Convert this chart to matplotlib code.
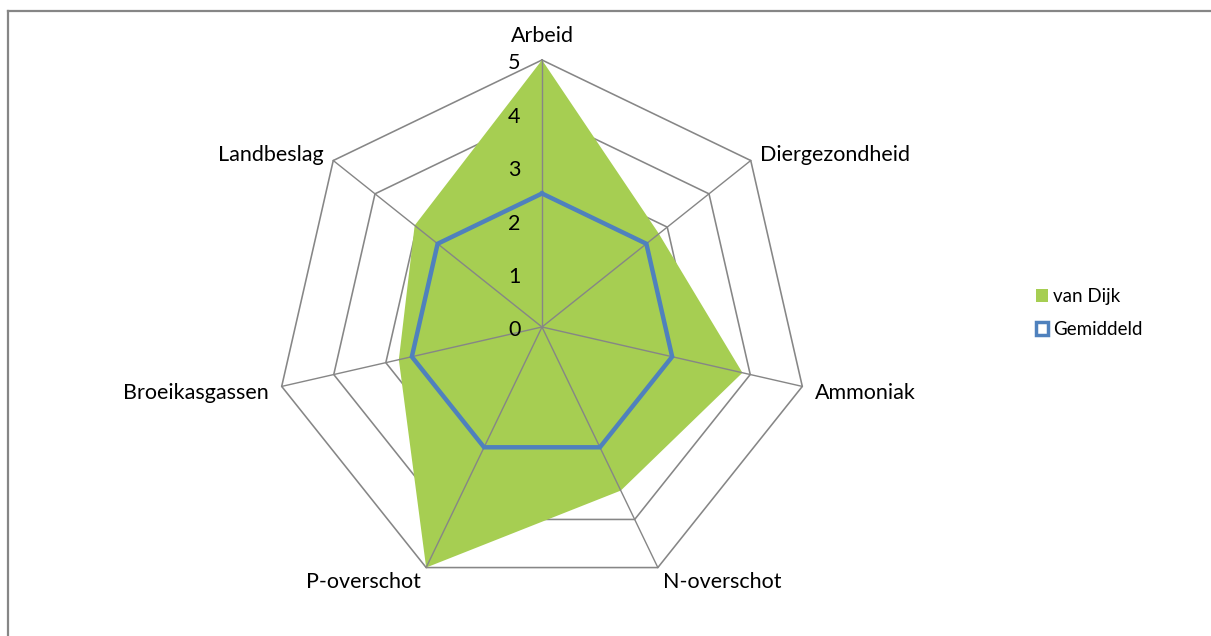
import numpy as np
import matplotlib
matplotlib.use("Agg")
import matplotlib.pyplot as plt
from matplotlib.patches import Patch
from matplotlib.lines import Line2D

categories = ["Arbeid", "Diergezondheid", "Ammoniak", "N-overschot",
              "P-overschot", "Broeikasgassen", "Landbeslag"]
van_dijk = [5.0, 2.8, 3.85, 3.4, 5.0, 2.75, 3.05]
gemiddeld = [2.5, 2.5, 2.5, 2.5, 2.5, 2.5, 2.5]
ticks = [0, 1, 2, 3, 4, 5]
series_names = ["van Dijk", "Gemiddeld"]

GREEN = "#A6CE52"
BLUE = "#4F81BD"
GRID = "#868686"
FONT = "Lato"

W, H = 1211, 636
fig = plt.figure(figsize=(W / 100, H / 100), dpi=100)
ax = fig.add_axes([0, 0, 1, 1])
cx, cy, rad = 542, 327, 267.0
u = rad / 5.0  # px per data unit
ax.set_xlim(-cx / u, (W - cx) / u)
ax.set_ylim(-(H - cy) / u, cy / u)
ax.axis("off")

n = len(categories)
ang = np.deg2rad(90 - np.arange(n) * 360.0 / n)
ca, sa = np.cos(ang), np.sin(ang)

def xy(vals):
    v = np.asarray(vals, float)
    return v * ca, v * sa

# grid rings
for t in ticks[1:]:
    x, y = xy([t] * n)
    ax.plot(np.r_[x, x[0]], np.r_[y, y[0]], color=GRID, lw=1.15, zorder=1)

# green fill
x, y = xy(van_dijk)
ax.fill(x, y, color=GREEN, lw=0, zorder=2)

# spokes (drawn over the fill like Excel)
for i in range(n):
    ax.plot([0, ticks[-1] * ca[i]], [0, ticks[-1] * sa[i]], color=GRID, lw=1.0, zorder=3)

# blue line
x, y = xy(gemiddeld)
ax.plot(np.r_[x, x[0]], np.r_[y, y[0]], color=BLUE, lw=3.2, zorder=4,
        solid_joinstyle="miter")

# tick labels
for t in ticks:
    ax.annotate(str(t), xy=(0, t), xytext=(-20, -2.5), textcoords="offset points",
                ha="center", va="center", fontsize=15.5, family=FONT, zorder=5)

# category labels
offs = {
    "Arbeid": (0, 17, "center"),
    "Diergezondheid": (7, 4, "left"),
    "Ammoniak": (9, -4.5, "left"),
    "N-overschot": (4, -10.5, "left"),
    "P-overschot": (-4, -10.5, "right"),
    "Broeikasgassen": (-9, -4.5, "right"),
    "Landbeslag": (-7, 4, "right"),
}
for i, c in enumerate(categories):
    dx, dy, ha = offs[c]
    ax.annotate(c, xy=(5 * ca[i], 5 * sa[i]), xytext=(dx, dy),
                textcoords="offset points", ha=ha, va="center",
                fontsize=15.5, family=FONT)

# legend
handles = [Patch(facecolor=GREEN, edgecolor=GREEN, lw=0),
           Patch(facecolor="white", edgecolor=BLUE, lw=2.5)]
leg = fig.legend(handles, series_names, loc="center left",
                 bbox_to_anchor=(1036 / W, 1 - 313 / H), frameon=False,
                 prop={"family": FONT, "size": 13.5}, handlelength=0.65,
                 handleheight=0.65, handletextpad=0.25, labelspacing=0.85,
                 borderpad=0, borderaxespad=0)

# outer chart border
fig.add_artist(Line2D([8 / W, 1], [1 - 11 / H, 1 - 11 / H], color=GRID, lw=1.6,
                      transform=fig.transFigure))
fig.add_artist(Line2D([8 / W, 8 / W], [0, 1 - 11 / H], color=GRID, lw=1.6,
                      transform=fig.transFigure))

fig.savefig("out.png", dpi=100)
